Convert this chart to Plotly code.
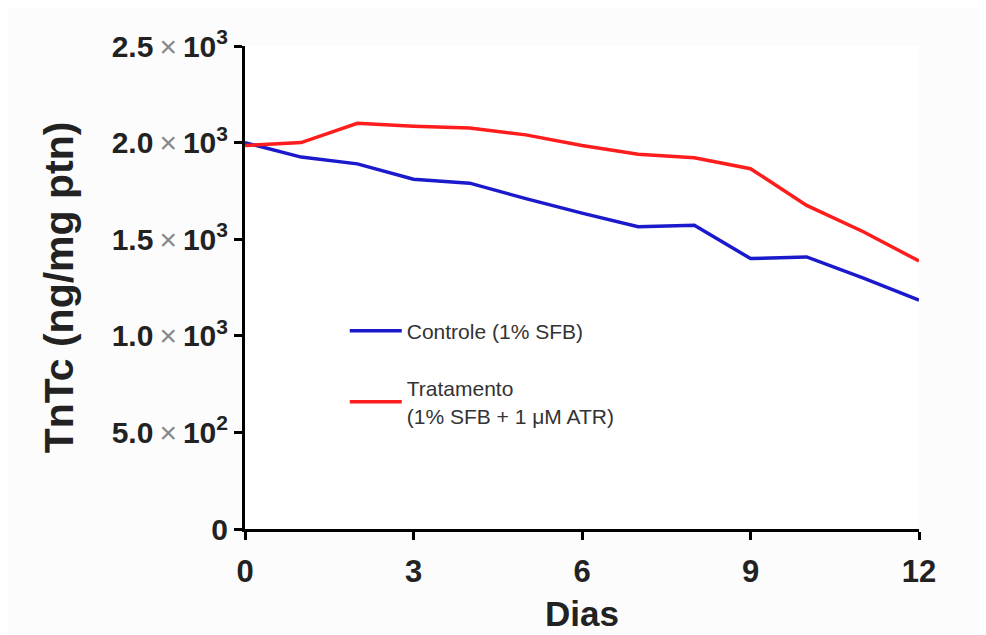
import plotly.graph_objects as go

dias = [0, 1, 2, 3, 4, 5, 6, 7, 8, 9, 10, 11, 12]
controle = [2000, 1925, 1890, 1810, 1790, 1710, 1635, 1565, 1572, 1400, 1408, 1300, 1185]
tratamento = [1985, 2000, 2100, 2085, 2075, 2040, 1985, 1940, 1922, 1865, 1675, 1540, 1387]

y_tickvals = [0, 500, 1000, 1500, 2000, 2500]
y_ticktext = ["0", "5.0×10²", "1.0×10³", "1.5×10³", "2.0×10³", "2.5×10³"]
x_tickvals = [0, 3, 6, 9, 12]

def fmt(t):
    if "×" not in t:
        return "<b>" + t + "</b>"
    mant, exp = t.split("×")
    base, pw = "10", {"²": "2", "³": "3"}[exp[-1]]
    return ("<b>" + mant + "</b><span style='color:#888;font-weight:normal'>\u2009×\u2009</span>"
            "<b>" + base + "<sup>" + pw + "</sup></b>")

fig = go.Figure()
fig.add_trace(go.Scatter(x=dias, y=controle, mode="lines", name="Controle (1% SFB)",
                         line=dict(color="#1a1acc", width=3.5), legendgroup="a"))
fig.add_trace(go.Scatter(x=dias, y=tratamento, mode="lines",
                         name="Tratamento<br>(1% SFB + 1 μM ATR)",
                         line=dict(color="#ff1c1c", width=3.5), legendgroup="b"))

axis_common = dict(showline=True, linecolor="black", linewidth=3, ticks="outside",
                   ticklen=8, tickwidth=3, tickcolor="black", showgrid=False,
                   zeroline=False, mirror=False, automargin=False)

fig.update_layout(
    width=986, height=635,
    paper_bgcolor="#fcfcfc", plot_bgcolor="#ffffff",
    margin=dict(l=237, r=75, t=38, b=114),
    font=dict(family="Liberation Sans, Arial, sans-serif", color="#222"),
    xaxis=dict(range=[0, 12], tickvals=x_tickvals,
               ticktext=["<b>%d</b>" % v for v in x_tickvals],
               tickfont=dict(size=31, color="#222"), ticklabelstandoff=5,
               title=dict(text="<b>Dias</b>", font=dict(size=35, color="#222"), standoff=14),
               **axis_common),
    yaxis=dict(range=[0, 2500], tickvals=y_tickvals,
               ticktext=[fmt(t) for t in y_ticktext],
               tickfont=dict(size=30, color="#222"),
               title=dict(text="<b>TnTc (ng/mg ptn)</b>", font=dict(size=41, color="#222"), standoff=26),
               **axis_common),
    showlegend=True,
    legend=dict(x=0.148, y=0.452, xanchor="left", yanchor="top",
                bgcolor="rgba(0,0,0,0)", font=dict(size=21, color="#333"),
                traceorder="grouped", tracegroupgap=27, itemwidth=52),
)

fig.write_html("out.html")
